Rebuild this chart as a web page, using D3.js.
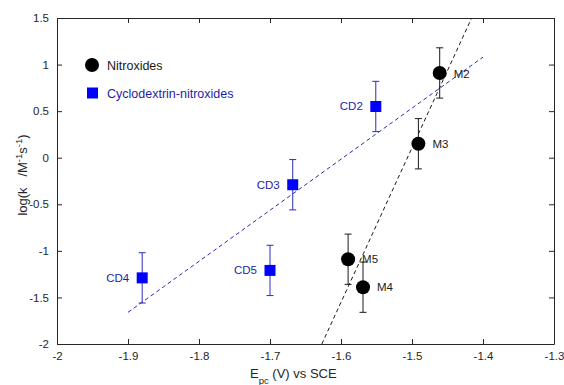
<!DOCTYPE html>
<html><head><meta charset="utf-8">
<script src="https://cdn.jsdelivr.net/npm/d3@7"></script>
<style>body{margin:0;background:#fff}svg{display:block;font-family:"Liberation Sans",Arial,sans-serif}</style>
</head><body><svg id="c" width="564" height="385"></svg>
<script>
const xTicks = [-2,-1.9,-1.8,-1.7,-1.6,-1.5,-1.4,-1.3];
const yTicks = [-2,-1.5,-1,-0.5,0,0.5,1,1.5];
const nitroNames = ["M2","M3","M5","M4"];
const nitroX = [-1.461,-1.491,-1.590,-1.569];
const nitroY = [0.91,0.15,-1.09,-1.39];
const nitroErr = [0.27,0.27,0.27,0.27];
const cdNames = ["CD2","CD3","CD4","CD5"];
const cdX = [-1.551,-1.668,-1.880,-1.700];
const cdY = [0.55,-0.29,-1.29,-1.21];
const cdErr = [0.27,0.27,0.27,0.27];
const nitroFitX = [-1.627,-1.416];
const nitroFitY = [-2,1.5];
const cdFitX = [-1.9,-1.4];
const cdFitY = [-1.66,1.08];

const svg = d3.select("#c");
const L=57,R=554,T=18,B=344;
const x = d3.scaleLinear().domain([-2,-1.3]).range([L,R]);
const y = d3.scaleLinear().domain([-2,1.5]).range([B,T]);
const axCol="#262626";
const fmt = d=>String(d);

const ax = (g,axis)=>{g.call(axis);g.select(".domain").attr("stroke",axCol);g.selectAll(".tick line").attr("stroke",axCol);g.selectAll("text").attr("fill","#262626").attr("font-size",11.5).attr("font-family","Liberation Sans, Arial, sans-serif");};
svg.append("g").attr("transform",`translate(0,${B})`).call(g=>ax(g,d3.axisBottom(x).tickValues(xTicks).tickFormat(fmt).tickSizeInner(-5).tickSizeOuter(0).tickPadding(8)));
svg.append("g").attr("transform",`translate(0,${T})`).call(g=>ax(g,d3.axisTop(x).tickValues(xTicks).tickFormat("").tickSizeInner(-5).tickSizeOuter(0)));
svg.append("g").attr("transform",`translate(${L},0)`).call(g=>ax(g,d3.axisLeft(y).tickValues(yTicks).tickFormat(fmt).tickSizeInner(-5).tickSizeOuter(0).tickPadding(8)));
svg.append("g").attr("transform",`translate(${R},0)`).call(g=>ax(g,d3.axisRight(y).tickValues(yTicks).tickFormat("").tickSizeInner(-5).tickSizeOuter(0)));

const line = d3.line().x(d=>x(d[0])).y(d=>y(d[1]));
svg.append("path").attr("d",line(d3.zip(cdFitX,cdFitY))).attr("stroke","#2b2bb0").attr("stroke-width",1).attr("stroke-dasharray","4,3").attr("fill","none");
svg.append("path").attr("d",line(d3.zip(nitroFitX,nitroFitY))).attr("stroke","#1a1a1a").attr("stroke-width",1).attr("stroke-dasharray","4,3").attr("fill","none");

function errbars(xs,ys,es,col){
  const g=svg.append("g").attr("stroke",col).attr("stroke-width",1);
  xs.forEach((xv,i)=>{
    const px=x(xv), t=y(ys[i]+es[i]), b=y(ys[i]-es[i]);
    g.append("line").attr("x1",px).attr("x2",px).attr("y1",t).attr("y2",b);
    g.append("line").attr("x1",px-3.5).attr("x2",px+3.5).attr("y1",t).attr("y2",t);
    g.append("line").attr("x1",px-3.5).attr("x2",px+3.5).attr("y1",b).attr("y2",b);
  });
}
errbars(cdX,cdY,cdErr,"#2b2bc0");
errbars(nitroX,nitroY,nitroErr,"#1a1a1a");

cdX.forEach((xv,i)=>svg.append("rect").attr("x",x(xv)-5.5).attr("y",y(cdY[i])-5.5).attr("width",11).attr("height",11).attr("fill","#0000ff"));
nitroX.forEach((xv,i)=>svg.append("circle").attr("cx",x(xv)).attr("cy",y(nitroY[i])).attr("r",7).attr("fill","#000"));

const cdLblCol="#1e1eaa";
cdNames.forEach((n,i)=>svg.append("text").attr("x",x(cdX[i])-13).attr("y",y(cdY[i])+4).attr("text-anchor","end").attr("font-size",11.5).attr("fill",cdLblCol).text(n));
nitroNames.forEach((n,i)=>svg.append("text").attr("x",x(nitroX[i])+14).attr("y",y(nitroY[i])+(n==="M2"?5:4)).attr("font-size",11.5).attr("fill","#1a1a1a").text(n));

svg.append("circle").attr("cx",92).attr("cy",65).attr("r",7).attr("fill","#000");
svg.append("text").attr("x",107).attr("y",70).attr("font-size",12.5).attr("fill","#1a1a1a").text("Nitroxides");
svg.append("rect").attr("x",87).attr("y",87.5).attr("width",11).attr("height",11).attr("fill","#0000ff");
svg.append("text").attr("x",107).attr("y",98).attr("font-size",12.5).attr("fill",cdLblCol).text("Cyclodextrin-nitroxides");

const xl=svg.append("text").attr("x",250).attr("y",378).attr("font-size",13).attr("fill","#262626");
xl.append("tspan").text("E");
xl.append("tspan").attr("dy",6).attr("font-size",9.5).text("pc");
xl.append("tspan").attr("dy",-6).text(" (V) vs SCE");
const yl=svg.append("text").attr("transform","translate(27,175) rotate(-90)").attr("text-anchor","middle").attr("font-size",13).attr("fill","#262626");
yl.append("tspan").text("log(k\u00a0\u00a0\u00a0/M");
yl.append("tspan").attr("dy",-5).attr("font-size",9.5).text("-1");
yl.append("tspan").attr("dy",5).text("s");
yl.append("tspan").attr("dy",-5).attr("font-size",9.5).text("-1");
yl.append("tspan").attr("dy",5).text(")");
</script></body></html>
